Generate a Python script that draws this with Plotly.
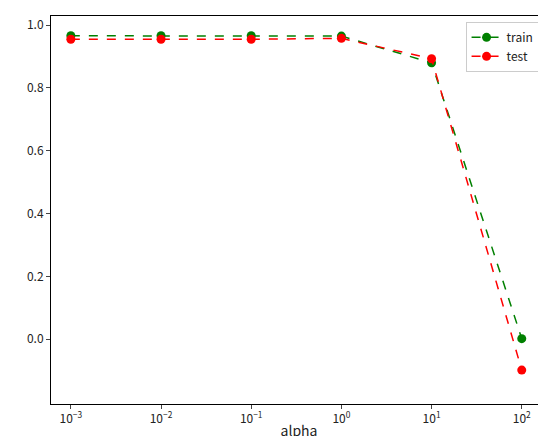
import plotly.graph_objects as go

alpha = [1e-3, 1e-2, 1e-1, 1, 10, 100]
train = [0.966, 0.966, 0.966, 0.965, 0.880, 0.002]
test = [0.955, 0.955, 0.955, 0.958, 0.893, -0.098]
xtick_vals = [1e-3, 1e-2, 1e-1, 1, 10, 100]
xtick_text = ["10<sup>−3</sup>", "10<sup>−2</sup>", "10<sup>−1</sup>", "10<sup>0</sup>", "10<sup>1</sup>", "10<sup>2</sup>"]
ytick_vals = [0.0, 0.2, 0.4, 0.6, 0.8, 1.0]

fig = go.Figure()
fig.add_trace(go.Scatter(x=alpha, y=train, name="train", mode="lines+markers",
                         line=dict(color="green", dash="dash", width=1.5),
                         marker=dict(color="green", size=9)))
fig.add_trace(go.Scatter(x=alpha, y=test, name="test", mode="lines+markers",
                         line=dict(color="red", dash="dash", width=1.5),
                         marker=dict(color="red", size=9)))
fig.update_layout(
    width=546, height=436, margin=dict(l=43, r=7, t=8, b=40),
    paper_bgcolor="white", plot_bgcolor="white",
    font=dict(family="Noto Sans CJK KR, DejaVu Sans", size=12, color="#222"),
    legend=dict(x=0.985, y=0.985, xanchor="right", yanchor="top",
                bordercolor="#ccc", borderwidth=1, bgcolor="rgba(255,255,255,0.8)"),
    xaxis=dict(type="log", range=[-3.22, 2.28], tickvals=xtick_vals, ticktext=xtick_text,
               showgrid=False, showline=True, linecolor="black", mirror=True,
               ticks="outside", ticklen=4, title=dict(text="alpha", standoff=0), zeroline=False,
               automargin=False),
    yaxis=dict(range=[-0.206, 1.029], tickvals=ytick_vals, tickformat=".1f",
               showgrid=False, showline=True, linecolor="black", mirror=True,
               ticks="outside", ticklen=4, zeroline=False, automargin=False),
)
fig.write_html("out.html")
